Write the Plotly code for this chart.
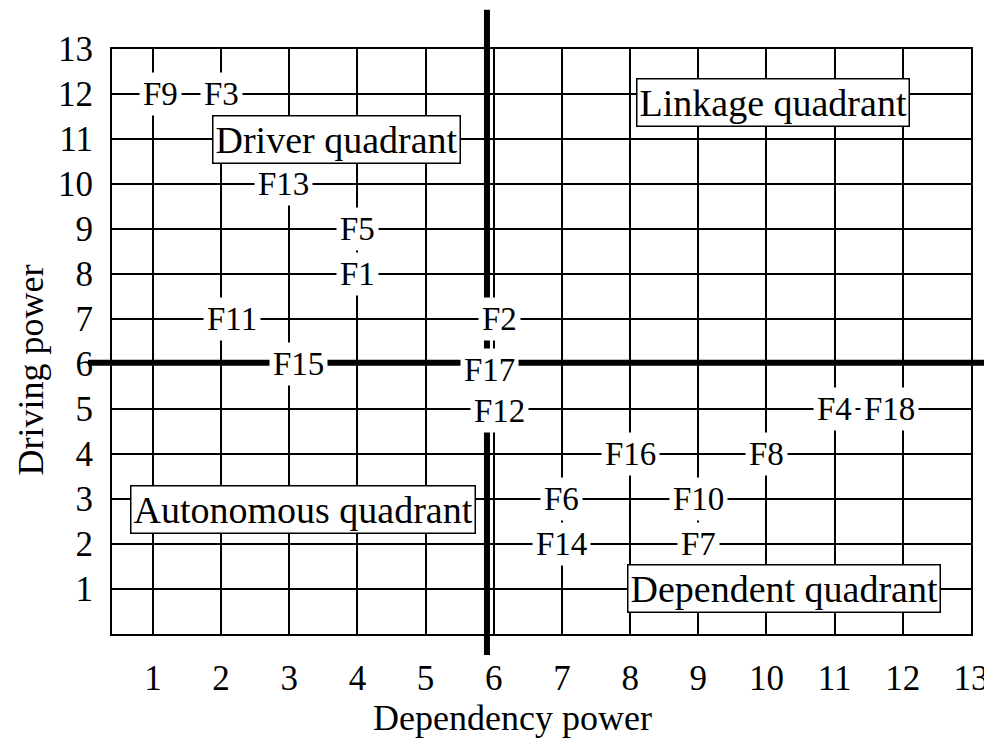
"""MICMAC driving power vs dependency power chart."""
import plotly.graph_objects as go

# Factor data: dependency power (x) and driving power (y)
factors = ["F9", "F3", "F13", "F5", "F1", "F11", "F15", "F2", "F17", "F12",
           "F16", "F8", "F4", "F18", "F6", "F10", "F14", "F7"]
dependence = [1, 2, 3, 4, 4, 2, 3, 6, 6, 6, 8, 10, 11, 12, 7, 9, 7, 9]
driving = [12, 12, 10, 9, 8, 7, 6, 7, 6, 5, 4, 4, 5, 5, 3, 3, 2, 2]

quadrants = ["Driver quadrant", "Linkage quadrant", "Autonomous quadrant", "Dependent quadrant"]
quad_x = [3.7, 10.1, 3.2, 10.25]
quad_y = [10.98, 11.82, 2.76, 1.02]

ticks = list(range(1, 14))
split_x = 5.9
split_y = 6.03

# small label nudges (pixels) seen in the original drawing
nudge = {"F11": (11, 0), "F15": (9, 0), "F18": (-13, 0), "F17": (-4, -6),
         "F13": (-6, 0), "F2": (6, 0), "F12": (6, -2), "F9": (8, 0)}

FONT = "Liberation Serif, Times New Roman, serif"

fig = go.Figure()

# invisible markers so the scatter lives on the axes
fig.add_trace(go.Scatter(
    x=dependence, y=driving, mode="markers",
    marker=dict(size=1, opacity=0), hoverinfo="text", text=factors,
    showlegend=False,
))

for name, dx, dy in zip(factors, dependence, driving):
    sx, sy = nudge.get(name, (0, 0))
    fig.add_annotation(
        x=dx, y=dy, text=name, showarrow=False,
        xshift=sx, yshift=sy,
        font=dict(family=FONT, size=33, color="black"),
        bgcolor="white", borderpad=3,
    )

for name, qx, qy in zip(quadrants, quad_x, quad_y):
    fig.add_annotation(
        x=qx, y=qy, text=name, showarrow=False,
        font=dict(family=FONT, size=38, color="black"),
        bgcolor="white", bordercolor="black", borderwidth=1.5, borderpad=2,
    )

# axis titles (placed off-centre like in the original)
fig.add_annotation(x=0.466, y=-0.144, xref="paper", yref="paper",
                   xanchor="center", yanchor="middle",
                   text="Dependency power", showarrow=False,
                   font=dict(family=FONT, size=36, color="black"))
fig.add_annotation(x=-0.094, y=0.451, xref="paper", yref="paper",
                   xanchor="center", yanchor="middle",
                   text="Driving power", showarrow=False, textangle=-90,
                   font=dict(family=FONT, size=36, color="black"))

# thick dividing lines
fig.add_shape(type="line", xref="x", yref="paper", x0=split_x, x1=split_x,
              y0=-0.036, y1=1.067, line=dict(color="black", width=6), layer="above")
fig.add_shape(type="line", xref="paper", yref="y", x0=-0.028, x1=1.03,
              y0=split_y, y1=split_y, line=dict(color="black", width=6), layer="above")

# page body adds an 8px offset, so the figure is sized to fit the window
fig.update_layout(
    width=984, height=734,
    margin=dict(l=104, r=21, t=41, b=108),
    paper_bgcolor="white", plot_bgcolor="white",
    font=dict(family=FONT, size=35, color="black"),
)
fig.update_xaxes(
    range=[0.4, 13], tickvals=ticks, ticktext=[str(t) for t in ticks],
    showgrid=True, gridcolor="black", gridwidth=1.5,
    showline=True, linecolor="black", linewidth=2, mirror=True,
    zeroline=False, ticks="", ticklabelstandoff=12, automargin=False,
    tickfont=dict(family=FONT, size=35),
)
fig.update_yaxes(
    range=[0, 13], tickvals=ticks, ticktext=[str(t) for t in ticks],
    showgrid=True, gridcolor="black", gridwidth=1.5,
    showline=True, linecolor="black", linewidth=2, mirror=True,
    zeroline=False, ticks="", ticklabelstandoff=10, automargin=False,
    tickfont=dict(family=FONT, size=35),
)

fig.write_html("out.html")
